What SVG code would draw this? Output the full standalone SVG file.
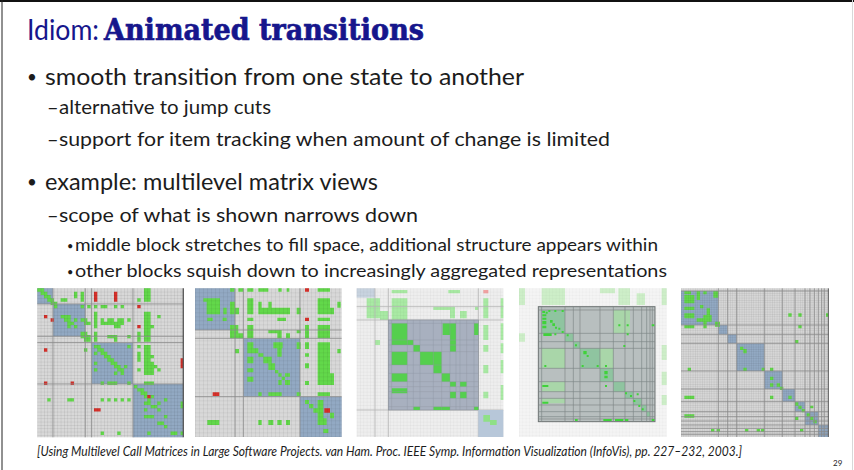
<svg xmlns="http://www.w3.org/2000/svg" width="854" height="470" viewBox="0 0 854 470">
<defs>
<style>
.t{font-family:Lato,"Open Sans","DejaVu Sans",sans-serif;fill:#1c1c1c}
.ti{font-family:Lato,"Open Sans","DejaVu Sans",sans-serif;fill:#16168c}
.ts{font-family:"DejaVu Serif","Liberation Serif",serif;font-weight:bold;fill:#16168c;stroke:#16168c;stroke-width:.7}
.ci{font-family:Lato,"Open Sans","DejaVu Sans",sans-serif;font-style:italic;fill:#1c1c1c}
.g{fill:#62d84a}
.r{fill:#d6302a}
.blu{fill:#92a9c3}
.sep{fill:none;stroke:#8a8a8a}
</style>
<pattern id="grid1" width="1" height="1" patternUnits="userSpaceOnUse"><path d="M0 .08H1M.08 0V1" fill="none" stroke="#000" stroke-opacity=".14" stroke-width=".16"/></pattern>
<pattern id="grid2" x="15" y="10" width="12" height="12" patternUnits="userSpaceOnUse"><path d="M0 .8H12M.8 0V12" fill="none" stroke="#000" stroke-opacity=".12" stroke-width="1.6"/></pattern>
<pattern id="grid3" x="20" y="10" width="10" height="10" patternUnits="userSpaceOnUse"><path d="M0 .8H10M.8 0V10" fill="none" stroke="#000" stroke-opacity=".06" stroke-width="1.6"/></pattern>
<pattern id="grid4" x="12" y="10" width="10" height="10" patternUnits="userSpaceOnUse"><path d="M0 .8H10M.8 0V10" fill="none" stroke="#000" stroke-opacity=".04" stroke-width="1.6"/></pattern>
<pattern id="grid5" x="18" y="10" width="7" height="7" patternUnits="userSpaceOnUse"><path d="M0 .8H7M.8 0V7" fill="none" stroke="#000" stroke-opacity=".1" stroke-width="1.6"/></pattern>
</defs>

<!-- slide frame -->
<rect width="854" height="470" fill="#fff"/>
<path d="M0 1H854" stroke="#111" stroke-width="2"/>
<path d="M2 0V470" stroke="#222" stroke-width="1"/>
<path d="M852.5 0V470" stroke="#d8d8d8" stroke-width="1"/>

<!-- title -->
<g id="title">
<text class="ti" x="27" y="40" font-size="28" textLength="72" lengthAdjust="spacingAndGlyphs">Idiom:</text>
<text class="ts" x="104" y="40" font-size="29" textLength="320" lengthAdjust="spacingAndGlyphs">Animated transitions</text>
</g>

<!-- bullet list -->
<g id="bullets">
<text class="t" x="27" y="83" font-size="17">•</text>
<text class="t" x="45" y="85" font-size="24" textLength="479" lengthAdjust="spacingAndGlyphs">smooth transition from one state to another</text>
<text class="t" x="47" y="114" font-size="20">–</text>
<text class="t" x="59" y="114" font-size="20" textLength="212" lengthAdjust="spacingAndGlyphs">alternative to jump cuts</text>
<text class="t" x="47" y="146" font-size="20">–</text>
<text class="t" x="59" y="146" font-size="20" textLength="551" lengthAdjust="spacingAndGlyphs">support for item tracking when amount of change is limited</text>
<text class="t" x="27" y="188" font-size="17">•</text>
<text class="t" x="45" y="190" font-size="24" textLength="333" lengthAdjust="spacingAndGlyphs">example: multilevel matrix views</text>
<text class="t" x="47" y="222" font-size="20">–</text>
<text class="t" x="59" y="222" font-size="20" textLength="359" lengthAdjust="spacingAndGlyphs">scope of what is shown narrows down</text>
<text class="t" x="67" y="250" font-size="11">•</text>
<text class="t" x="75" y="251" font-size="17" textLength="583" lengthAdjust="spacingAndGlyphs">middle block stretches to fill space, additional structure appears within</text>
<text class="t" x="67" y="276" font-size="11">•</text>
<text class="t" x="75" y="277" font-size="17" textLength="592" lengthAdjust="spacingAndGlyphs">other blocks squish down to increasingly aggregated representations</text>
</g>

<!-- matrix view 1: full overview, cell units -->
<g id="matrix-1" transform="translate(37.3 288.3) scale(3.333)">
<rect width="43.8" height="44.7" fill="#d8d8d8"/>
<path class="blu" d="M0 0h4.7v4.7h-4.7zM4.7 4.7h9.7v9.7h-9.7zM16.3 16.3h12.4v12.4h-12.4zM28.7 28.7h15.1v16h-15.1z"/>
<path class="g" d="M0 0h2v1h-2zM1 1h2v1h-2zM2 2h2v1h-2zM3 3h2v1h-2zM4 4h2v1h-2zM5 5h1v1h-1zM32 0h2v4h-2zM11 1h1v2h-1zM13 1h1v3h-1zM7 3h2v1h-2zM30 3h1v1h-1zM13 5h1v1h-1zM15 5h1v1h-1zM17 5h1v1h-1zM19 5h2v1h-2zM23 5h1v1h-1zM25 5h1v1h-1zM17 7h1v5h-1zM32 7h2v9h-2zM34 11h1v1h-1zM7 8h3v1h-3zM8 9h2v1h-2zM9 10h2v1h-2zM9 11h1v1h-1zM11 9h1v1h-1zM11 11h1v1h-1zM36 8h1v1h-1zM13 9h2v1h-2zM14 10h2v1h-2zM19 9h1v2h-1zM21 9h2v1h-2zM24 9h2v1h-2zM27 9h1v1h-1zM19 10h7v1h-7zM23 11h2v1h-2zM13 13h2v1h-2zM13 14h3v1h-3zM14 15h2v1h-2zM17 13h1v3h-1zM30 13h1v3h-1zM21 14h3v1h-3zM23 15h1v1h-1zM27 14h1v1h-1zM17 17h2v1h-2zM18 18h2v1h-2zM19 19h2v1h-2zM20 20h2v1h-2zM21 21h2v1h-2zM22 22h2v1h-2zM23 23h2v1h-2zM24 24h2v1h-2zM23 25h1v1h-1zM25 25h1v1h-1zM26 23h1v1h-1zM14 18h1v1h-1zM17 19h1v1h-1zM17 22h1v1h-1zM17 24h1v1h-1zM27 17h1v1h-1zM30 17h1v1h-1zM30 19h1v3h-1zM30 24h1v1h-1zM32 17h2v9h-2zM34 20h1v1h-1zM34 22h1v4h-1zM35 23h1v1h-1zM36 24h1v1h-1zM19 28h1v1h-1zM21 28h3v1h-3zM27 28h1v1h-1zM32 28h3v1h-3zM29 29h1v1h-1zM30 30h2v1h-2zM31 31h2v1h-2zM32 32h1v1h-1zM34 32h1v1h-1zM33 33h1v1h-1zM32 34h2v1h-2zM34 35h2v1h-2zM36 34h1v1h-1zM3 33h1v1h-1zM9 33h2v1h-2zM19 33h1v1h-1zM21 33h1v1h-1zM23 33h1v1h-1zM25 33h1v1h-1zM27 33h1v1h-1zM38 33h1v1h-1zM43 34h.8v2h-.8zM32 36h1v1h-1zM36 36h1v1h-1zM32 38h3v1h-3zM38 38h1v1h-1zM36 40h2v1h-2zM38 41h1v1h-1zM19 43h1v1h-1zM24 43h1v1h-1zM33 43h1v1h-1zM40 43h2v1h-2zM43 43h.8v1h-.8z"/>
<path class="r" d="M17 1h1v3h-1zM23 1h1v3h-1zM30 5h1v1h-1zM2 8h1v1h-1zM4 9h1v1h-1zM30 11h1v1h-1zM2 18h1v1h-1zM43 21h.8v3h-.8zM2 28h1v1h-1zM10 28h1v1h-1zM33 32h1v1h-1zM17 36h2v1h-2z"/>
<rect width="43.8" height="44.7" fill="url(#grid1)"/>
<path class="sep" stroke-width=".25" d="M4.7 0V44.7M14.4 0V44.7M16.3 0V44.7M28.7 0V44.7M0 4.7H43.8M0 14.4H43.8M0 16.3H43.8M0 28.7H43.8"/>
<path d="M43.8 0V44.7" stroke="#555" stroke-width=".4"/>
</g>

<!-- matrix view 2 -->
<g id="matrix-2" transform="translate(190 285) scale(.33333)">
<rect x="15" y="10" width="440" height="446" fill="#d8d8d8"/>
<path class="blu" d="M15 10h120v125h-120zM160 160h170v175h-170zM330 335h125v121h-125z"/>
<path class="g" d="M120 10h13v10h-13zM145 10h15v10h-15zM172 10h18v10h-18zM205 10h30v10h-30zM265 10h10v10h-10zM290 10h8v10h-8zM383 10h37v10h-37zM40 40h10v10h-10zM50 40h40v48h-40zM100 68h10v20h-10zM120 50h15v38h-15zM135 68h12v20h-12zM52 98h16v10h-16zM98 98h12v10h-12zM172 40h18v48h-18zM172 98h18v10h-18zM205 50h10v38h-10zM215 68h20v20h-20zM235 50h10v38h-10zM245 68h55v20h-55zM262 98h26v10h-26zM320 68h12v20h-12zM383 40h37v48h-37zM420 68h12v20h-12zM383 98h37v10h-37zM442 50h10v18h-10zM120 120h25v40h-25zM145 145h15v15h-15zM172 120h18v40h-18zM235 135h27v10h-27zM262 135h13v25h-13zM288 145h12v15h-12zM320 135h12v10h-12zM345 120h12v40h-12zM383 120h37v40h-37zM172 172h18v33h-18zM190 190h15v15h-15zM205 205h15v10h-15zM220 215h25v20h-25zM172 215h18v20h-18zM235 235h20v20h-20zM255 255h10v10h-10zM265 265h10v10h-10zM285 265h15v10h-15zM275 275h10v10h-10zM265 285h10v15h-10zM285 285h15v15h-15zM172 250h18v12h-18zM172 275h18v15h-18zM250 172h28v18h-28zM262 190h13v25h-13zM320 172h12v20h-12zM135 192h12v13h-12zM345 172h12v20h-12zM345 205h12v10h-12zM345 235h12v15h-12zM345 288h12v12h-12zM383 172h37v128h-37zM420 265h12v35h-12zM442 192h10v13h-10zM205 322h10v11h-10zM235 322h40v11h-40zM320 322h12v11h-12zM383 322h37v11h-37zM345 345h12v12h-12zM357 357h13v13h-13zM370 370h13v13h-13zM383 345h17v75h-17zM420 383h12v17h-12zM400 400h10v20h-10zM52 405h36v15h-36zM205 405h10v15h-10zM235 405h15v15h-15zM262 405h13v15h-13zM288 405h12v15h-12zM400 432h15v12h-15z"/>
<path class="r" d="M345 10h12v10h-12zM345 98h12v10h-12zM68 322h20v11h-20zM403 370h17v13h-17z"/>
<rect x="15" y="10" width="440" height="446" fill="url(#grid2)"/>
<path class="sep" stroke-width="2.4" d="M135 10V456M160 10V456M330 10V456M15 135H455M15 160H455M15 335H455"/>
</g>

<!-- matrix view 3 -->
<g id="matrix-3" transform="translate(350 285) scale(.33333)">
<rect x="20" y="10" width="440" height="446" fill="#eeeeee"/>
<rect x="20" y="10" width="55" height="28" fill="#c8d3df"/>
<path fill="#a9eaa4" d="M50 40h40v60h-40zM90 78h25v27h-25zM125 15h47v10h-47zM125 40h47v65h-47zM250 65h50v10h-50zM300 65h15v35h-15zM330 78h20v22h-20zM295 15h35v10h-35zM375 65h10v10h-10zM400 40h15v60h-15zM452 40h8v60h-8zM75 165h15v15h-15zM400 120h15v45h-15zM400 180h15v20h-15zM400 240h15v25h-15zM400 320h15v20h-15zM452 115h8v50h-8zM452 175h8v30h-8zM452 225h8v40h-8zM452 300h8v45h-8z"/>
<rect x="400" y="15" width="15" height="10" fill="#f2a3a3"/>
<rect x="20" y="10" width="440" height="446" fill="url(#grid3)"/>
<path fill="none" stroke="#b4b4b4" stroke-width="2.4" d="M75 10V456M115 10V456M385 10V456M20 65H460M20 105H460M20 375H460"/>
<rect x="115" y="105" width="270" height="270" fill="#a8b0bf" stroke="#8a909a" stroke-width="2"/>
<path fill="#55cf4e" d="M125 115h47v50h-47zM125 165h65v15h-65zM190 180h20v20h-20zM210 200h40v40h-40zM250 200h25v40h-25zM250 240h25v25h-25zM275 265h25v25h-25zM300 290h18v15h-18zM330 290h20v15h-20zM300 320h18v20h-18zM330 320h20v20h-20zM125 200h47v40h-47zM125 265h47v25h-47zM125 310h47v15h-47zM278 115h40v35h-40zM300 150h18v50h-18zM372 115h13v35h-13zM190 365h20v10h-20zM250 365h50v10h-50zM372 365h13v10h-13z"/>
<path fill="none" stroke="#8f97a5" stroke-width="1.5" stroke-opacity=".8" d="M125 105V375M172 105V375M190 105V375M210 105V375M250 105V375M275 105V375M300 105V375M318 105V375M330 105V375M350 105V375M372 105V375M115 115H385M115 165H385M115 180H385M115 200H385M115 240H385M115 265H385M115 290H385M115 305H385M115 320H385M115 340H385M115 365H385"/>
<rect x="385" y="375" width="75" height="81" fill="#b7c7d9"/>
<path fill="#8fe086" d="M400 390h20v20h-20zM420 405h20v15h-20z"/>
</g>

<!-- matrix view 4 -->
<g id="matrix-4" transform="translate(515 285) scale(.33333)">
<rect x="12" y="10" width="443" height="446" fill="#f4f4f4"/>
<path fill="#cdeec8" d="M12 10h18v50h-18zM80 10h70v50h-70zM255 10h45v15h-45zM310 10h35v50h-35zM365 25h25v35h-25zM440 10h15v50h-15zM12 145h18v25h-18zM440 180h15v45h-15zM440 260h15v40h-15zM440 330h15v30h-15z"/>
<rect x="12" y="10" width="443" height="446" fill="url(#grid4)"/>
<rect x="70" y="65" width="350" height="345" fill="#b8bfbf" stroke="#6e7474" stroke-width="3"/>
<path fill="#8fc4a0" d="M80 75h70v70h-70zM150 145h25v25h-25zM175 170h20v20h-20zM195 190h60v60h-60zM255 250h40v40h-40zM295 290h35v30h-35zM330 320h25v20h-25zM355 340h25v20h-25zM380 360h15v20h-15zM395 380h10v15h-10z"/>
<path fill="#a9d6a9" d="M80 190h70v60h-70zM255 190h40v60h-40zM295 75h50v70h-50zM80 290h70v30h-70zM80 340h70v15h-70z"/>
<path fill="none" stroke="#7f8787" stroke-width="2" d="M80 65V410M150 65V410M175 65V410M195 65V410M255 65V410M295 65V410M330 65V410M355 65V410M380 65V410M395 65V410M405 65V410M412 65V410M70 75H420M70 145H420M70 170H420M70 190H420M70 250H420M70 290H420M70 320H420M70 340H420M70 360H420M70 380H420M70 395H420M70 402H420"/>
<path fill="#3fd23a" d="M82 78h8v6h-8zM92 80h6v6h-6zM100 75h6v6h-6zM118 75h6v6h-6zM140 75h6v6h-6zM82 88h12v6h-12zM82 98h12v6h-12zM82 108h12v10h-12zM82 122h12v8h-12zM105 105h8v8h-8zM112 115h8v8h-8zM120 125h6v6h-6zM130 128h6v6h-6zM140 138h6v6h-6zM85 145h25v8h-25zM118 145h6v6h-6zM155 148h6v6h-6zM180 178h6v6h-6zM205 198h10v10h-10zM215 210h6v6h-6zM88 240h6v6h-6zM200 240h6v6h-6zM245 240h6v6h-6zM270 240h6v6h-6zM268 258h10v10h-10zM268 272h10v8h-10zM270 300h6v6h-6zM310 118h6v6h-6zM335 118h6v6h-6zM335 145h6v6h-6zM325 180h6v6h-6zM410 118h8v6h-8zM82 300h18v6h-18zM82 350h18v6h-18zM330 322h6v6h-6zM345 330h6v6h-6zM365 325h6v6h-6zM355 345h6v6h-6zM370 360h6v6h-6zM380 370h6v6h-6zM180 402h8v6h-8zM265 402h25v6h-25zM300 402h25v6h-25zM330 402h10v6h-10zM410 402h8v6h-8z"/>
</g>

<!-- matrix view 5 -->
<g id="matrix-5" transform="translate(675 285) scale(.33333)">
<rect x="18" y="10" width="442" height="446" fill="#d6d6d6"/>
<path class="blu" d="M18 18h112v102h-112zM130 120h28v28h-28zM158 148h27v27h-27zM185 175h83v83h-83zM268 258h54v54h-54zM322 312h38v38h-38zM360 350h30v30h-30zM390 380h40v40h-40zM430 420h30v36h-30z"/>
<path class="g" d="M28 18h20v10h-20zM65 18h10v27h-10zM85 18h10v10h-10zM115 18h15v20h-15zM28 30h30v25h-30zM28 65h30v10h-30zM28 85h30v15h-30zM65 100h20v10h-20zM85 90h25v20h-25zM95 70h10v20h-10zM75 60h10v10h-10zM120 110h15v15h-15zM28 120h30v10h-30zM85 110h10v20h-10zM340 85h10v10h-10zM370 85h10v10h-10zM453 85h7v10h-7zM370 120h10v10h-10zM360 165h10v10h-10zM195 185h10v10h-10zM205 192h10v13h-10zM205 248h10v10h-10zM260 248h10v10h-10zM285 248h10v10h-10zM38 248h10v10h-10zM285 275h10v10h-10zM285 295h10v10h-10zM305 295h10v10h-10zM315 305h10v10h-10zM285 332h10v10h-10zM340 332h10v10h-10zM360 352h10v10h-10zM370 362h10v10h-10zM380 372h10v10h-10zM405 362h10v8h-10zM360 395h10v10h-10zM395 385h10v10h-10zM405 395h10v10h-10zM415 405h10v10h-10zM28 332h30v10h-30zM28 388h30v10h-30zM108 432h10v8h-10zM125 432h10v8h-10zM210 432h10v8h-10zM245 432h10v8h-10zM258 432h10v8h-10zM375 432h10v8h-10z"/>
<rect x="18" y="10" width="442" height="446" fill="url(#grid5)"/>
<path class="sep" stroke-width="2.4" d="M130 10V456M158 10V456M185 10V456M268 10V456M322 10V456M360 10V456M390 10V456M405 10V456M418 10V456M430 10V456M440 10V456M448 10V456M18 18H460M18 120H460M18 148H460M18 175H460M18 258H460M18 312H460M18 350H460M18 380H460M18 395H460M18 408H460M18 420H460M18 430H460M18 440H460M18 448H460"/>
<path d="M460 10V456" stroke="#555" stroke-width="3"/>
</g>

<!-- reference line and page number -->
<g id="footer">
<text class="ci" x="37" y="456" font-size="12.5" textLength="705" lengthAdjust="spacingAndGlyphs">[Using Multilevel Call Matrices in Large Software Projects. van Ham. Proc. IEEE Symp. Information Visualization (InfoVis), pp. 227–232, 2003.]</text>
<text class="t" x="833" y="466" font-size="8">29</text>
</g>
</svg>
